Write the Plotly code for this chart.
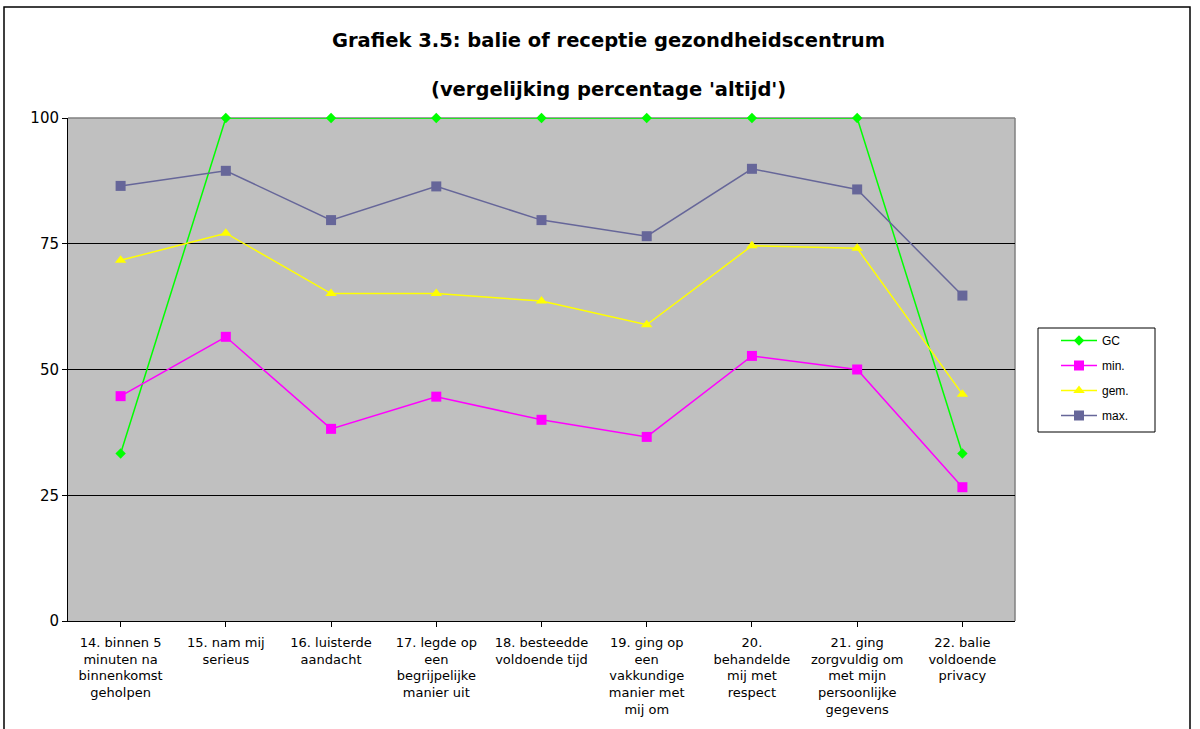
import plotly.graph_objects as go

categories = [
    "14. binnen 5<br>minuten na<br>binnenkomst<br>geholpen",
    "15. nam mij<br>serieus",
    "16. luisterde<br>aandacht",
    "17. legde op<br>een<br>begrijpelijke<br>manier uit",
    "18. besteedde<br>voldoende tijd",
    "19. ging op<br>een<br>vakkundige<br>manier met<br>mij om",
    "20.<br>behandelde<br>mij met<br>respect",
    "21. ging<br>zorgvuldig om<br>met mijn<br>persoonlijke<br>gegevens",
    "22. balie<br>voldoende<br>privacy",
]
gc_vals = [33.3, 100, 100, 100, 100, 100, 100, 100, 33.3]
min_vals = [44.7, 56.5, 38.2, 44.6, 40.0, 36.6, 52.7, 50.0, 26.6]
gem_vals = [71.7, 77.1, 65.1, 65.1, 63.6, 58.9, 74.6, 74.1, 45.1]
max_vals = [86.5, 89.5, 79.7, 86.4, 79.7, 76.5, 89.9, 85.8, 64.7]
y_ticks = [0, 25, 50, 75, 100]

series = [
    ("GC", gc_vals, "#00FF00", "diamond", 8),
    ("min.", min_vals, "#FF00FF", "square", 10),
    ("gem.", gem_vals, "#FFFF00", "triangle-up", 10),
    ("max.", max_vals, "#666699", "square", 10),
]

x_idx = list(range(len(categories)))
fig = go.Figure()
for name, vals, color, sym, size in series:
    fig.add_trace(go.Scatter(
        x=x_idx, y=vals, name=name, mode="lines+markers",
        line=dict(color=color, width=1.5),
        marker=dict(color=color, symbol=sym, size=size, line=dict(width=0)),
        legendgroup=name, cliponaxis=False,
    ))

L, R, T, B = 68, 185, 118, 108
W, H = 1200, 729
pw, ph = W - L - R, H - T - B

def px(x):
    return (x - L) / pw

def py(y):
    return (H - B - y) / ph

VERD = "DejaVu Sans, Verdana, sans-serif"

fig.update_layout(
    width=W, height=H,
    margin=dict(l=L, r=R, t=T, b=B),
    paper_bgcolor="white", plot_bgcolor="#C0C0C0",
    font=dict(family=VERD, size=13, color="black"),
    showlegend=True,
    legend=dict(
        x=px(1056), y=py(326), xanchor="left", yanchor="top",
        borderwidth=0, bgcolor="rgba(0,0,0,0)",
        font=dict(size=12, family="Liberation Sans, Arial, sans-serif"),
        tracegroupgap=6, itemwidth=36,
    ),
    xaxis=dict(
        range=[-0.5, len(categories) - 0.5],
        tickmode="array", tickvals=x_idx, ticktext=categories,
        showgrid=False, zeroline=False,
        showline=True, linecolor="black", linewidth=1,
        ticks="outside", ticklen=5, tickcolor="black",
        tickson="boundaries", tickfont=dict(size=13, family=VERD),
        ticklabelstandoff=4,
        fixedrange=True,
    ),
    yaxis=dict(
        range=[0, 100], tickmode="array", tickvals=y_ticks,
        showgrid=True, gridcolor="black", gridwidth=1,
        zeroline=False, showline=True, linecolor="black", linewidth=1,
        ticks="outside", ticklen=5, tickcolor="black",
        tickfont=dict(size=15, family=VERD), fixedrange=True,
    ),
    annotations=[
        dict(text="<b>Grafiek 3.5: balie of receptie gezondheidscentrum</b>",
             xref="paper", yref="paper", x=px(608), y=py(40),
             showarrow=False, font=dict(size=19.5, family=VERD), xanchor="center", yanchor="middle"),
        dict(text="<b>(vergelijking percentage 'altijd')</b>",
             xref="paper", yref="paper", x=px(608), y=py(90),
             showarrow=False, font=dict(size=19.5, family=VERD), xanchor="center", yanchor="middle"),
    ],
    shapes=[
        dict(type="rect", xref="paper", yref="paper",
             x0=px(4), x1=px(1190), y0=py(740), y1=py(7),
             line=dict(color="black", width=1.5), fillcolor="rgba(0,0,0,0)", layer="below"),
        dict(type="line", xref="paper", yref="paper", x0=0, x1=1, y0=1, y1=1,
             line=dict(color="#808080", width=1.5), layer="below"),
        dict(type="line", xref="paper", yref="paper", x0=1, x1=1, y0=0, y1=1,
             line=dict(color="#808080", width=1.5), layer="below"),
        dict(type="rect", xref="paper", yref="paper",
             x0=px(1038), x1=px(1155), y0=py(432), y1=py(328),
             line=dict(color="black", width=1), fillcolor="white", layer="below"),
    ],
)

fig.write_html("out.html", config={"displayModeBar": False},
               post_script="document.body.style.margin='0';")
